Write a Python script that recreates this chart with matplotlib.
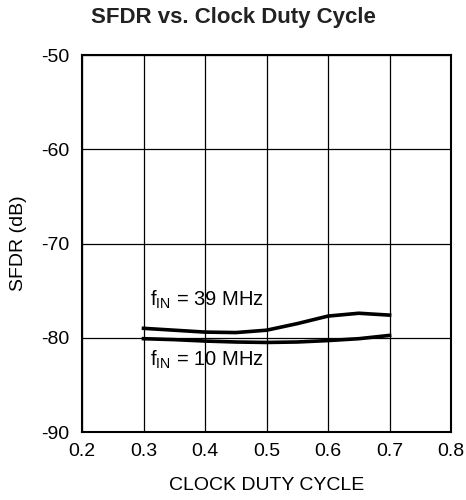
import numpy as np
import matplotlib
matplotlib.use("Agg")
import matplotlib.pyplot as plt

plt.rcParams['font.family'] = ['Liberation Sans', 'DejaVu Sans']
plt.rcParams['axes.unicode_minus'] = False
plt.rcParams['mathtext.fontset'] = 'custom'
plt.rcParams['mathtext.rm'] = 'Liberation Sans'

duty = [0.30, 0.35, 0.40, 0.45, 0.50, 0.55, 0.60, 0.65, 0.70]
sfdr_39 = [-79.0, -79.2, -79.4, -79.45, -79.2, -78.5, -77.7, -77.4, -77.6]
sfdr_10 = [-80.1, -80.2, -80.35, -80.45, -80.5, -80.45, -80.3, -80.1, -79.75]

xticks = [0.2, 0.3, 0.4, 0.5, 0.6, 0.7, 0.8]
yticks = [-90, -80, -70, -60, -50]

fig = plt.figure(figsize=(4.66, 5), dpi=100)
ax = fig.add_axes([0.176, 0.136, 0.792, 0.754])

ax.plot(duty, sfdr_39, color='black', lw=2.6)
ax.plot(duty, sfdr_10, color='black', lw=2.6)

ax.text(0.31, -76.0, r'f$_{\mathrm{IN}}$ = 39 MHz', fontsize=14.5, va='center')
ax.text(0.31, -82.3, r'f$_{\mathrm{IN}}$ = 10 MHz', fontsize=14.5, va='center')

ax.set_xlim(0.2, 0.8)
ax.set_ylim(-90, -50)
ax.set_xticks(xticks)
ax.set_xticklabels([str(v) for v in xticks])
ax.set_yticks(yticks)
ax.grid(True, color='black', lw=0.9)
ax.tick_params(axis='both', length=0, labelsize=14)
ax.tick_params(axis='x', pad=8)
ax.tick_params(axis='y', pad=9)
for s in ax.spines.values():
    s.set_linewidth(1.5)

ax.set_xlabel('CLOCK DUTY CYCLE', fontsize=14, labelpad=12)
ax.set_ylabel('SFDR (dB)', fontsize=14, labelpad=10)
fig.text(0.5, 0.966, 'SFDR vs. Clock Duty Cycle', fontsize=16, fontweight='bold',
         color='#222222', ha='center', va='center')

fig.savefig('out.png', dpi=100)
